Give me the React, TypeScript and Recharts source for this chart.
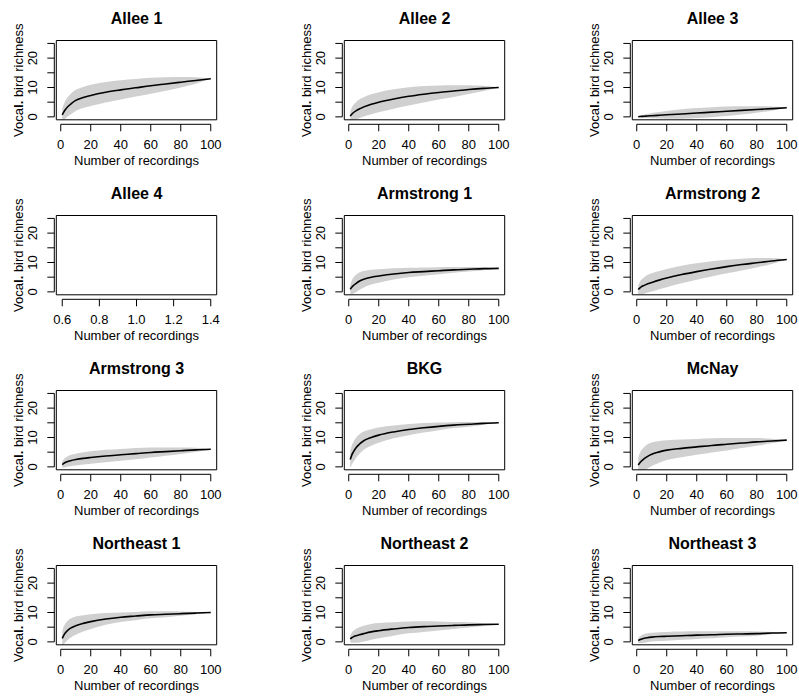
import React from 'react';
import { ComposedChart, Line, Area, XAxis, YAxis, ReferenceArea } from 'recharts';

// ---------- data ----------
const recordings = [1, 2, 3, 5, 7, 10, 15, 20, 30, 40, 50, 60, 70, 80, 90, 100];

const allee1Mean = [0.7, 1.6, 2.4, 3.6, 4.5, 5.6, 6.6, 7.3, 8.4, 9.2, 9.9, 10.6, 11.2, 11.8, 12.4, 13.0];
const allee1Ci = [2.0, 2.6, 3.0, 3.3, 3.5, 3.6, 3.6, 3.6, 3.5, 3.3, 3.0, 2.7, 2.3, 1.8, 1.1, 0];

const allee2Mean = [0.3, 0.9, 1.4, 2.1, 2.7, 3.4, 4.3, 5.0, 6.1, 7.0, 7.7, 8.3, 8.8, 9.3, 9.7, 10.0];
const allee2Ci = [1.5, 2.2, 2.6, 3.0, 3.2, 3.3, 3.4, 3.4, 3.3, 3.1, 2.8, 2.4, 2.0, 1.5, 0.9, 0];

const allee3Mean = [0.05, 0.1, 0.15, 0.2, 0.3, 0.4, 0.55, 0.7, 1.0, 1.3, 1.6, 1.9, 2.2, 2.5, 2.8, 3.1];
const allee3Ci = [0.2, 0.3, 0.4, 0.6, 0.7, 0.9, 1.1, 1.3, 1.6, 1.7, 1.7, 1.6, 1.4, 1.1, 0.7, 0];

// Allee 4: a single recording, nothing visible is drawn
const allee4Recordings = [1];
const allee4Mean = [0];

const armstrong1Mean = [0.9, 1.6, 2.1, 2.9, 3.6, 4.3, 5.0, 5.4, 6.1, 6.6, 6.9, 7.2, 7.5, 7.7, 7.9, 8.0];
const armstrong1Ci = [1.5, 2.3, 2.7, 3.0, 3.0, 2.8, 2.5, 2.3, 1.9, 1.6, 1.4, 1.2, 1.0, 0.8, 0.5, 0];

const armstrong2Mean = [0.8, 1.3, 1.7, 2.2, 2.7, 3.2, 4.0, 4.7, 5.9, 6.9, 7.8, 8.6, 9.3, 9.9, 10.5, 11.0];
const armstrong2Ci = [1.5, 2.0, 2.4, 2.8, 3.0, 3.1, 3.1, 3.1, 3.0, 2.8, 2.6, 2.3, 2.0, 1.6, 1.0, 0];

const armstrong3Mean = [0.8, 1.2, 1.5, 1.9, 2.2, 2.5, 2.9, 3.2, 3.7, 4.1, 4.5, 4.9, 5.2, 5.5, 5.8, 6.0];
const armstrong3Ci = [1.0, 1.4, 1.6, 1.8, 1.9, 2.0, 2.1, 2.1, 2.1, 2.0, 1.9, 1.7, 1.4, 1.1, 0.7, 0];

const bkgMean = [2.5, 4.0, 5.0, 6.6, 7.7, 8.9, 10.0, 10.8, 11.9, 12.7, 13.3, 13.8, 14.2, 14.5, 14.8, 15.0];
const bkgCi = [3.0, 3.3, 3.4, 3.4, 3.3, 3.1, 2.8, 2.6, 2.2, 1.9, 1.6, 1.3, 1.0, 0.8, 0.5, 0];

const mcnayMean = [0.6, 1.3, 1.9, 2.8, 3.5, 4.3, 5.1, 5.7, 6.3, 6.8, 7.3, 7.7, 8.1, 8.5, 8.8, 9.1];
const mcnayCi = [2.5, 3.3, 3.7, 4.0, 4.1, 4.0, 3.7, 3.4, 3.0, 2.7, 2.4, 2.1, 1.7, 1.3, 0.8, 0];

const northeast1Mean = [1.2, 2.2, 3.0, 4.1, 4.8, 5.5, 6.3, 6.9, 7.8, 8.4, 8.8, 9.2, 9.4, 9.6, 9.8, 10.0];
const northeast1Ci = [2.5, 3.0, 3.2, 3.3, 3.2, 3.1, 2.8, 2.5, 2.0, 1.6, 1.4, 1.2, 1.0, 0.7, 0.4, 0];

const northeast2Mean = [1.0, 1.4, 1.7, 2.1, 2.4, 2.8, 3.4, 3.8, 4.4, 4.9, 5.2, 5.4, 5.6, 5.8, 5.9, 6.0];
const northeast2Ci = [1.2, 1.7, 2.0, 2.4, 2.6, 2.7, 2.7, 2.6, 2.3, 2.0, 1.8, 1.5, 1.2, 0.9, 0.5, 0];

const northeast3Mean = [0.4, 0.7, 0.9, 1.2, 1.4, 1.6, 1.8, 1.9, 2.1, 2.3, 2.4, 2.6, 2.7, 2.8, 3.0, 3.1];
const northeast3Ci = [0.8, 1.1, 1.3, 1.5, 1.5, 1.5, 1.5, 1.5, 1.4, 1.3, 1.2, 1.0, 0.9, 0.7, 0.4, 0];

const xTicks = [0, 20, 40, 60, 80, 100];
const allee4XTicks = [0.6, 0.8, 1.0, 1.2, 1.4];
const yTicks = [0, 5, 10, 15, 20, 25];
const yLabelTicks = [0, 10, 20];

const xTitle = 'Number of recordings';

// ---------- layout ----------
const FONT = '"Liberation Sans", Arial, Helvetica, sans-serif';
const BOX_LEFT = 56.3;
const BOX_TOP = 40.5;
const BOX_W = 160.4;
const BOX_H = 79.3;
const CHART_W = 230;
const CHART_H = 175;
const COL_STEP = 288;
const ROW_STEP = 175;
const Y_DOMAIN: [number, number] = [-1, 26];
const PX_PER_Y = BOX_H / (Y_DOMAIN[1] - Y_DOMAIN[0]);

function buildRows(xs: number[], mean: number[], ci?: number[]) {
  return xs.map((x, i) => ({
    x,
    mean: mean[i],
    band: ci ? [mean[i] - ci[i], mean[i] + ci[i]] : undefined,
  }));
}

function rDomain(lo: number, hi: number): [number, number] {
  const pad = (hi - lo) * 0.04;
  return [lo - pad, hi + pad];
}

type PanelDef = {
  title: string;
  rows: any[];
  xDomain: [number, number];
  ticks: number[];
  fmt: (v: number) => string;
};

const intFmt = (v: number) => String(v);
const decFmt = (v: number) => v.toFixed(1);
const stdDomain = rDomain(1, 100);

const panels: PanelDef[] = [
  { title: 'Allee 1', rows: buildRows(recordings, allee1Mean, allee1Ci), xDomain: stdDomain, ticks: xTicks, fmt: intFmt },
  { title: 'Allee 2', rows: buildRows(recordings, allee2Mean, allee2Ci), xDomain: stdDomain, ticks: xTicks, fmt: intFmt },
  { title: 'Allee 3', rows: buildRows(recordings, allee3Mean, allee3Ci), xDomain: stdDomain, ticks: xTicks, fmt: intFmt },
  { title: 'Allee 4', rows: buildRows(allee4Recordings, allee4Mean), xDomain: rDomain(0.6, 1.4), ticks: allee4XTicks, fmt: decFmt },
  { title: 'Armstrong 1', rows: buildRows(recordings, armstrong1Mean, armstrong1Ci), xDomain: stdDomain, ticks: xTicks, fmt: intFmt },
  { title: 'Armstrong 2', rows: buildRows(recordings, armstrong2Mean, armstrong2Ci), xDomain: stdDomain, ticks: xTicks, fmt: intFmt },
  { title: 'Armstrong 3', rows: buildRows(recordings, armstrong3Mean, armstrong3Ci), xDomain: stdDomain, ticks: xTicks, fmt: intFmt },
  { title: 'BKG', rows: buildRows(recordings, bkgMean, bkgCi), xDomain: stdDomain, ticks: xTicks, fmt: intFmt },
  { title: 'McNay', rows: buildRows(recordings, mcnayMean, mcnayCi), xDomain: stdDomain, ticks: xTicks, fmt: intFmt },
  { title: 'Northeast 1', rows: buildRows(recordings, northeast1Mean, northeast1Ci), xDomain: stdDomain, ticks: xTicks, fmt: intFmt },
  { title: 'Northeast 2', rows: buildRows(recordings, northeast2Mean, northeast2Ci), xDomain: stdDomain, ticks: xTicks, fmt: intFmt },
  { title: 'Northeast 3', rows: buildRows(recordings, northeast3Mean, northeast3Ci), xDomain: stdDomain, ticks: xTicks, fmt: intFmt },
];

const X_AXIS_GAP = 4.5;
const TICK_LEN = 7;
const Y_AXIS_GAP = 2;

function makeXTick(p: PanelDef) {
  const pxPerX = BOX_W / (p.xDomain[1] - p.xDomain[0]);
  const axisLen = (p.ticks[p.ticks.length - 1] - p.ticks[0]) * pxPerX;
  return (props: any) => {
    const { x, y, payload, index } = props;
    const ay = y + X_AXIS_GAP;
    return (
      <g>
        {index === 0 && <line x1={x} x2={x + axisLen} y1={ay} y2={ay} stroke="#000" strokeWidth={1} />}
        <line x1={x} x2={x} y1={ay} y2={ay + TICK_LEN} stroke="#000" strokeWidth={1} />
        <text x={x} y={y + 29} textAnchor="middle" fontSize={13} fontFamily={FONT} fill="#000">
          {p.fmt(payload.value)}
        </text>
      </g>
    );
  };
}

const YTick = (props: any) => {
  const { x, y, payload } = props;
  const ax = x - Y_AXIS_GAP;
  const v = payload.value;
  return (
    <g>
      {v === 0 && <line x1={ax} x2={ax} y1={y} y2={y - 25 * PX_PER_Y} stroke="#000" strokeWidth={1} />}
      <line x1={ax} x2={ax - TICK_LEN} y1={y} y2={y} stroke="#000" strokeWidth={1} />
      {yLabelTicks.includes(v) && (
        <text
          transform={`translate(${x - 19.3},${y}) rotate(-90)`}
          textAnchor="middle"
          fontSize={13}
          fontFamily={FONT}
          fill="#000"
        >
          {v}
        </text>
      )}
    </g>
  );
};

function Panel({ p, index }: { p: PanelDef; index: number }) {
  const col = index % 3;
  const row = Math.floor(index / 3);
  const XTick = makeXTick(p);
  const cx = BOX_LEFT + BOX_W / 2;
  const cy = BOX_TOP + BOX_H / 2;
  const hasCurve = p.rows.length > 1;
  return (
    <div style={{ position: 'absolute', left: col * COL_STEP, top: row * ROW_STEP, width: CHART_W, height: CHART_H }}>
      <ComposedChart
        width={CHART_W}
        height={CHART_H}
        data={p.rows}
        margin={{ top: BOX_TOP, right: CHART_W - BOX_LEFT - BOX_W, bottom: 0, left: 0 }}
      >
        <XAxis
          dataKey="x"
          type="number"
          domain={p.xDomain}
          allowDataOverflow
          ticks={p.ticks}
          interval={0}
          axisLine={false}
          tickLine={false}
          tickSize={0}
          tickMargin={0}
          height={CHART_H - BOX_TOP - BOX_H}
          tick={XTick}
        />
        <YAxis
          type="number"
          domain={Y_DOMAIN}
          allowDataOverflow
          ticks={yTicks}
          interval={0}
          axisLine={false}
          tickLine={false}
          tickSize={0}
          tickMargin={0}
          width={BOX_LEFT}
          tick={YTick}
        />
        {hasCurve && (
          <Area
            dataKey="band"
            type="monotone"
            stroke="none"
            fill="#d0d0d0"
            fillOpacity={1}
            isAnimationActive={false}
            dot={false}
            activeDot={false}
          />
        )}
        {hasCurve && (
          <Line
            dataKey="mean"
            type="monotone"
            stroke="#000"
            strokeWidth={1.6}
            dot={false}
            activeDot={false}
            isAnimationActive={false}
          />
        )}
        <ReferenceArea
          x1={p.xDomain[0]}
          x2={p.xDomain[1]}
          y1={Y_DOMAIN[0]}
          y2={Y_DOMAIN[1]}
          fill="none"
          fillOpacity={0}
          stroke="#000"
          strokeWidth={1}
          ifOverflow="visible"
        />
      </ComposedChart>
      <svg
        width={CHART_W}
        height={CHART_H}
        style={{ position: 'absolute', left: 0, top: 0, pointerEvents: 'none' }}
      >
        <text x={cx} y={BOX_TOP - 17} textAnchor="middle" fontSize={16} fontWeight="bold" fontFamily={FONT} fill="#000">
          {p.title}
        </text>
        <text x={cx} y={BOX_TOP + BOX_H + 45} textAnchor="middle" fontSize={13} fontFamily={FONT} fill="#000">
          {xTitle}
        </text>
        <text
          transform={`translate(${BOX_LEFT - 33.6},${cy}) rotate(-90)`}
          textAnchor="middle"
          fontSize={13}
          fontFamily={FONT}
          fill="#000"
        >
          <tspan>Voca</tspan>
          <tspan fontWeight="bold">l.</tspan>
          <tspan> bird richness</tspan>
        </text>
      </svg>
    </div>
  );
}

export default function App() {
  return (
    <div
      style={{
        position: 'absolute',
        left: 0,
        top: 0,
        width: 799,
        height: 696,
        overflow: 'hidden',
        background: '#fff',
      }}
    >
      {panels.map((p, i) => (
        <Panel key={p.title} p={p} index={i} />
      ))}
    </div>
  );
}
